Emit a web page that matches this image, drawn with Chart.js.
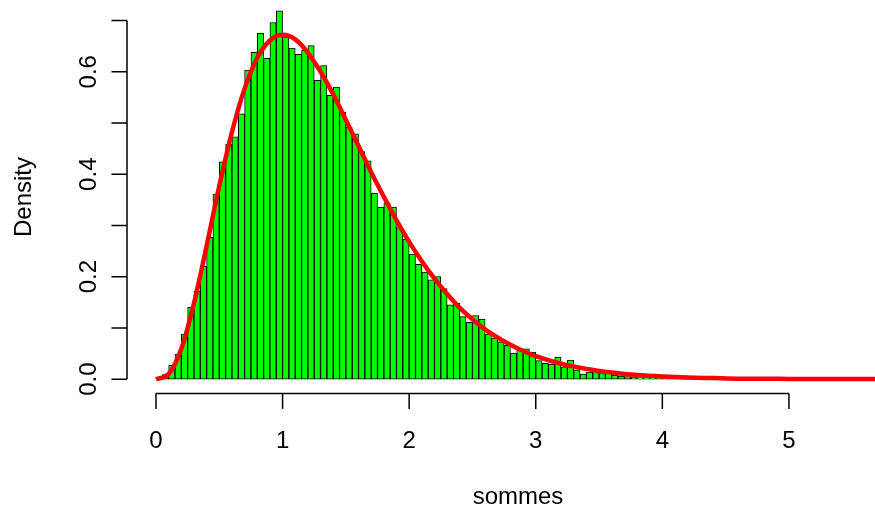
<!DOCTYPE html>
<html lang="fr">
  <head>
    <meta charset="utf-8">
    <title>Histogramme des sommes</title>
    <script src="https://cdn.jsdelivr.net/npm/chart.js"></script>
    <style>
      body { margin: 0; background: #fff; }
      canvas { display: block; }
    </style>
  </head>
  <body>
    <canvas id="myChart" width="875" height="510"></canvas>
    <script>
      // histogram: bins of 0.05 starting at 0, density
      const binWidth = 0.05;
      const density = [
        0.003, 0.009, 0.027, 0.049, 0.088, 0.140, 0.172, 0.220, 0.277, 0.361,
        0.424, 0.459, 0.473, 0.518, 0.603, 0.638, 0.675, 0.626, 0.696, 0.719,
        0.668, 0.646, 0.634, 0.642, 0.651, 0.583, 0.612, 0.554, 0.570, 0.521,
        0.492, 0.479, 0.444, 0.426, 0.363, 0.336, 0.344, 0.336, 0.296, 0.273,
        0.244, 0.224, 0.209, 0.194, 0.200, 0.177, 0.145, 0.148, 0.122, 0.111,
        0.124, 0.117, 0.088, 0.080, 0.073, 0.066, 0.051, 0.058, 0.059, 0.053,
        0.036, 0.031, 0.029, 0.043, 0.024, 0.037, 0.018, 0.010, 0.014, 0.013,
        0.011, 0.016, 0.008, 0.006, 0.005, 0.004, 0.003, 0.003, 0.002, 0.002,
        0.001, 0.001, 0.001, 0.001
      ];

      // red density curve
      const curveX = [
        0.0, 0.1, 0.2, 0.3, 0.4, 0.5, 0.6, 0.7, 0.8, 0.9,
        1.0, 1.1, 1.2, 1.3, 1.4, 1.5, 1.6, 1.7, 1.8, 1.9,
        2.0, 2.1, 2.2, 2.3, 2.4, 2.5, 2.6, 2.7, 2.8, 2.9,
        3.0, 3.2, 3.4, 3.6, 3.8, 4.0, 4.2, 4.4, 4.6, 4.8,
        5.0, 5.4, 5.7
      ];
      const curveY = [
        0.000, 0.010, 0.059, 0.148, 0.260, 0.377, 0.482, 0.567, 0.627, 0.661,
        0.672, 0.663, 0.637, 0.600, 0.556, 0.506, 0.455, 0.404, 0.356, 0.310,
        0.268, 0.230, 0.196, 0.166, 0.139, 0.117, 0.097, 0.081, 0.067, 0.055,
        0.045, 0.030, 0.020, 0.013, 0.008, 0.005, 0.003, 0.002, 0.001, 0.001,
        0.0005, 0.0002, 0.0001
      ];

      const xTicks = [0, 1, 2, 3, 4, 5];
      const yTicks = [0, 0.1, 0.2, 0.3, 0.4, 0.5, 0.6, 0.7];
      const yTickLabels = { 0: '0.0', 0.2: '0.2', 0.4: '0.4', 0.6: '0.6' };
      const xTitle = 'sommes';
      const yTitle = 'Density';

      const bars = density.map((d, i) => ({ x: binWidth * i + binWidth / 2, y: d }));
      const curve = curveX.map((x, i) => ({ x: x, y: curveY[i] }));

      const FONT = '24px "Liberation Sans", Arial, Helvetica, sans-serif';

      // R-style detached axes, drawn from the chart's own scales
      const rAxes = {
        id: 'rAxes',
        afterDraw(chart) {
          const c = chart.ctx;
          const xs = chart.scales.x;
          const ys = chart.scales.y;
          const area = chart.chartArea;
          const axisY = area.bottom - 0.5;
          const axisX = area.left;
          c.save();
          c.strokeStyle = '#000';
          c.fillStyle = '#000';
          c.lineWidth = 1.5;
          c.font = FONT;

          // x axis
          c.beginPath();
          c.moveTo(xs.getPixelForValue(xTicks[0]), axisY);
          c.lineTo(xs.getPixelForValue(xTicks[xTicks.length - 1]), axisY);
          xTicks.forEach(t => {
            const px = xs.getPixelForValue(t);
            c.moveTo(px, axisY);
            c.lineTo(px, axisY + 15.5);
          });
          c.stroke();
          c.textAlign = 'center';
          c.textBaseline = 'alphabetic';
          xTicks.forEach(t => {
            c.fillText(String(t), xs.getPixelForValue(t), 448);
          });

          // y axis
          c.beginPath();
          c.moveTo(axisX, ys.getPixelForValue(yTicks[0]));
          c.lineTo(axisX, ys.getPixelForValue(yTicks[yTicks.length - 1]));
          yTicks.forEach(t => {
            const py = ys.getPixelForValue(t);
            c.moveTo(axisX, py);
            c.lineTo(axisX - 15.5, py);
          });
          c.stroke();
          Object.keys(yTickLabels).forEach(k => {
            const py = ys.getPixelForValue(parseFloat(k));
            c.save();
            c.translate(96, py);
            c.rotate(-Math.PI / 2);
            c.fillText(yTickLabels[k], 0, 0);
            c.restore();
          });

          // titles
          c.fillText(xTitle, 518, 504);
          c.save();
          c.translate(31, (area.top + area.bottom) / 2);
          c.rotate(-Math.PI / 2);
          c.fillText(yTitle, 0, 0);
          c.restore();
          c.restore();
        }
      };

      const ctx = document.getElementById('myChart');
      new Chart(ctx, {
        type: 'bar',
        data: {
          datasets: [{
            type: 'line',
            label: 'densite',
            data: curve,
            borderColor: '#ff0000',
            borderWidth: 4.5,
            pointRadius: 0,
            cubicInterpolationMode: 'monotone',
            fill: false,
            order: 0
          }, {
            type: 'bar',
            label: 'sommes',
            data: bars,
            backgroundColor: '#00ff00',
            borderColor: '#000000',
            borderWidth: 1,
            borderSkipped: false,
            barPercentage: 1,
            categoryPercentage: 1,
            order: 1
          }]
        },
        options: {
          responsive: false,
          animation: false,
          layout: { padding: { left: 127, right: 0, top: 0, bottom: 116 } },
          plugins: { legend: { display: false }, tooltip: { enabled: false } },
          scales: {
            x: { type: 'linear', min: -0.229, max: 5.68, display: false, offset: false },
            y: { type: 'linear', min: -0.029, max: 0.740, display: false }
          }
        },
        plugins: [rAxes]
      });
    </script>
  </body>
</html>
